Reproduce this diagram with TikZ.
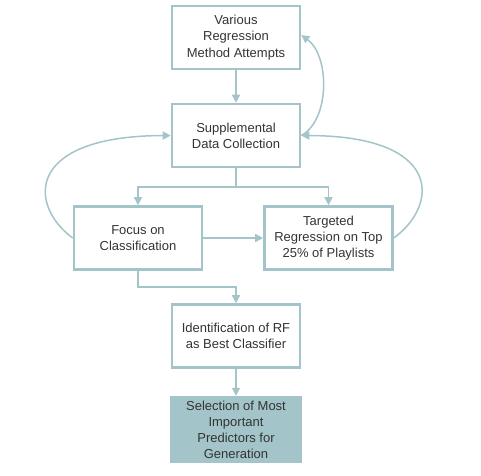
\documentclass[tikz,border=0pt]{standalone}
\usepackage{fontspec}
\setmainfont{Liberation Sans}
\usetikzlibrary{arrows.meta}
\definecolor{teal1}{HTML}{A3C4C9}
\definecolor{txt}{HTML}{333333}
\tikzset{
  box/.style={draw=teal1, line width=2.6pt, minimum width=128pt, minimum height=63pt,
    align=center, text=txt, inner sep=0pt,
    font=\fontsize{13pt}{16.3pt}\selectfont},
  fbox/.style={fill=teal1, minimum width=132pt, minimum height=67pt,
    align=center, text=txt, inner sep=0pt,
    font=\fontsize{13pt}{16pt}\selectfont},
  conn/.style={draw=teal1, line width=1.5pt, -{Triangle[length=8pt,width=8pt]}},
  connplain/.style={draw=teal1, line width=1.5pt}
}
\begin{document}
\begin{tikzpicture}[x=1pt,y=-1pt]
\useasboundingbox (0,0) rectangle (481,475);
\node[box] (n1) at (236,37.5) {Various\\Regression\\Method Attempts};
\node[box] (n2) at (236,135.5) {Supplemental\\Data Collection};
\node[box] (n3) at (138,238) {Focus on\\Classification};
\node[box] (n4) at (328.5,238) {Targeted\\Regression on Top\\25\% of Playlists};
\node[box] (n5) at (236,336) {Identification of RF\\as Best Classifier};
\node[fbox] (n6) at (236,429.5) {Selection of Most\\Important\\Predictors for\\Generation};

\draw[conn] (n1.south) -- (n2.north);
\draw[connplain] (n2.south) -- ++(0,18.5) coordinate (split);
\draw[conn] (split) -| (n3.north);
\draw[conn] (split) -| (n4.north);
\draw[conn] (n3.east) -- (n4.west);
\draw[conn] (n3.south) -- ++(0,16) -| (n5.north);
\draw[conn] (n5.south) -- (n6.north);

\draw[conn] (n3.west) .. controls (28,205) and (25,136) .. (n2.west);
\draw[conn] (n4.east) .. controls (439,205) and (443,136) .. (n2.east);
\draw[conn] (n2.east) .. controls (330,120) and (330,56) .. ([yshift=2.5pt]n1.east);
\end{tikzpicture}
\end{document}
